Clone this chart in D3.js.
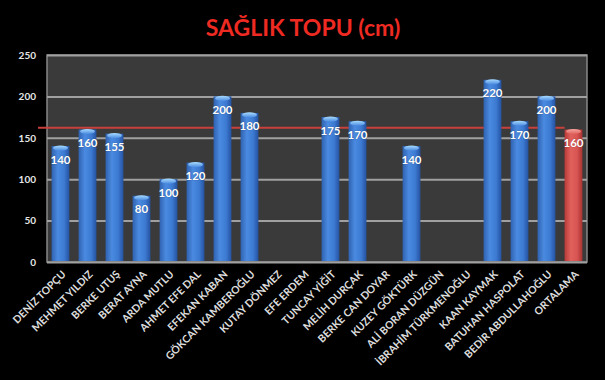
<!DOCTYPE html>
<html><head><meta charset="utf-8">
<script src="https://cdn.jsdelivr.net/npm/d3@7"></script>
<style>html,body{margin:0;padding:0;background:#000;}svg{display:block;}</style>
</head><body>
<script>
const title = "SAĞLIK TOPU (cm)";
const categories = ["DENİZ TOPÇU","MEHMET YILDIZ","BERKE UTUŞ","BERAT AYNA","ARDA MUTLU","AHMET EFE DAL","EFEKAN KABAN","GÖKCAN KAMBEROĞLU","KUTAY DÖNMEZ","EFE ERDEM","TUNCAY YİĞİT","MELİH DURÇAK","BERKE CAN DOYAR","KUZEY GÖKTÜRK","ALİ BORAN DÜZGÜN","İBRAHİM TÜRKMENOĞLU","KAAN KAYMAK","BATUHAN HASPOLAT","BEDİR ABDULLAHOĞLU","ORTALAMA"];
const values = [140,160,155,80,100,120,200,180,null,null,175,170,null,140,null,null,220,170,200,160];
const averageCategory = "ORTALAMA";
const referenceValue = 162;
const yTicks = [0,50,100,150,200,250];

const W = 605, H = 380;
const m = {left:47, right:18, top:55, bottom:118};
const svg = d3.select("body").append("svg").attr("width",W).attr("height",H);
svg.append("rect").attr("width",W).attr("height",H).attr("fill","#000");

const defs = svg.append("defs");
function cyl(id, stops){
  const g = defs.append("linearGradient").attr("id",id).attr("x1","0%").attr("x2","100%");
  stops.forEach(s=>g.append("stop").attr("offset",s[0]).attr("stop-color",s[1]));
}
cyl("blueG",[["0%","#2f62b0"],["35%","#4a8ae0"],["70%","#3d7bd3"],["100%","#2552a0"]]);
cyl("redG",[["0%","#b83a38"],["35%","#e0605c"],["70%","#d85552"],["100%","#a83230"]]);
const capB = defs.append("linearGradient").attr("id","capB").attr("x1","0").attr("x2","0").attr("y1","0").attr("y2","1");
capB.append("stop").attr("offset","0%").attr("stop-color","#a8dcff");
capB.append("stop").attr("offset","100%").attr("stop-color","#4a8ae0");
const capR = defs.append("linearGradient").attr("id","capR").attr("x1","0").attr("x2","0").attr("y1","0").attr("y2","1");
capR.append("stop").attr("offset","0%").attr("stop-color","#f5a8a0");
capR.append("stop").attr("offset","100%").attr("stop-color","#e0605c");

const x = d3.scaleBand().domain(categories).range([m.left, W-m.right]).paddingInner(0.34).paddingOuter(0.17);
const y = d3.scaleLinear().domain([0,250]).range([H-m.bottom, m.top]);

svg.append("text").attr("x",303).attr("y",36).attr("text-anchor","middle")
  .attr("font-family","Lato, 'Open Sans', sans-serif").attr("font-weight","bold").attr("font-size",23)
  .attr("fill","#ee2a22").text(title);

// plot background
svg.append("rect").attr("x",m.left).attr("y",m.top).attr("width",W-m.right-m.left).attr("height",H-m.bottom-m.top)
  .attr("fill","#3a3a3a").attr("stroke","#888").attr("stroke-width",1.5);

// grid
const yAxis = d3.axisLeft(y).tickValues(yTicks).tickSize(-(W-m.right-m.left)).tickPadding(11);
const ga = svg.append("g").attr("transform",`translate(${m.left},0)`).call(yAxis);
ga.select(".domain").remove();
ga.selectAll(".tick line").attr("stroke","#a0a0a0").attr("stroke-width",2);
ga.selectAll(".tick text").attr("fill","#e6e6e6").attr("font-family","Lato, sans-serif").attr("font-weight","bold").attr("font-size",10);

// reference line
const lastX = x(averageCategory);
svg.append("line").attr("x1",38).attr("x2",lastX).attr("y1",y(referenceValue)).attr("y2",y(referenceValue))
  .attr("stroke","#c8403c").attr("stroke-width",2);

const data = categories.map((c,i)=>({c, v:values[i]})).filter(d=>d.v!=null);
const bars = svg.append("g").selectAll("g").data(data).join("g");
bars.append("rect").attr("x",d=>x(d.c)).attr("y",d=>y(d.v)).attr("width",x.bandwidth())
  .attr("height",d=>y(0)-y(d.v)-1).attr("fill",d=>d.c===averageCategory?"url(#redG)":"url(#blueG)");
bars.append("ellipse").attr("cx",d=>x(d.c)+x.bandwidth()/2).attr("cy",d=>y(d.v)+2)
  .attr("rx",x.bandwidth()/2-1.5).attr("ry",2.6).attr("fill",d=>d.c===averageCategory?"url(#capR)":"url(#capB)");
bars.append("text").attr("x",d=>x(d.c)+x.bandwidth()/2).attr("y",d=>y(d.v)+17.5).attr("text-anchor","middle")
  .attr("font-family","Lato, sans-serif").attr("font-weight","bold").attr("font-size",11.5)
  .attr("fill","#fff").attr("stroke","rgba(0,0,0,0.35)").attr("stroke-width",0.6).attr("paint-order","stroke")
  .text(d=>d.v);

// x labels
svg.append("g").selectAll("text").data(categories).join("text")
  .attr("transform",d=>`translate(${x(d)+x.bandwidth()/2+6},${H-m.bottom+13}) rotate(-45)`)
  .attr("text-anchor","end").attr("font-family","Lato, sans-serif").attr("font-weight","bold").attr("font-size",10.5)
  .attr("fill","#ddd").text(d=>d);
</script>
</body></html>
